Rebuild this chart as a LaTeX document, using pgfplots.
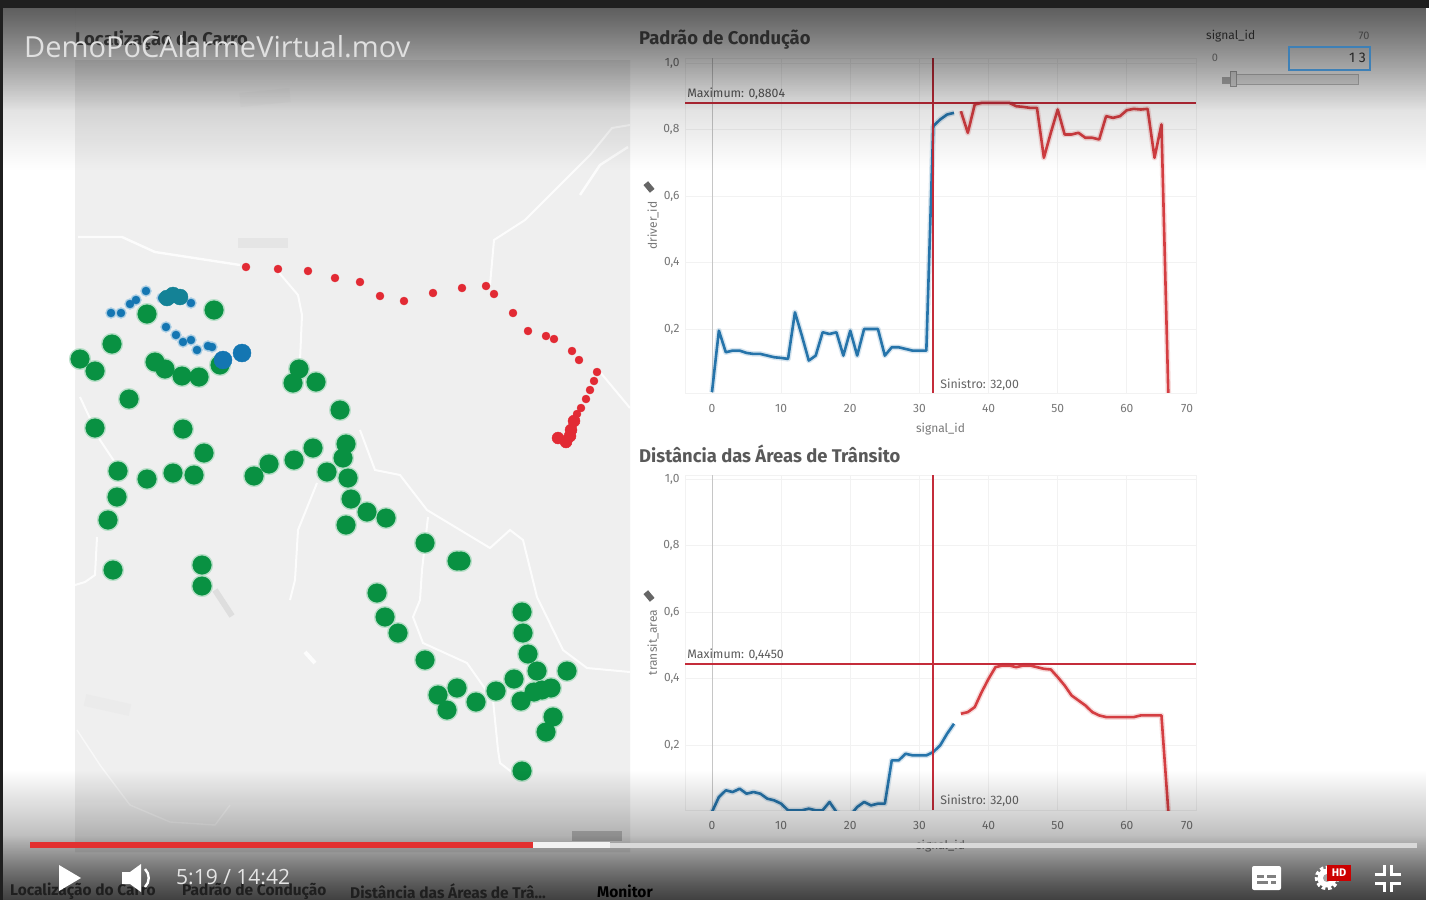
\documentclass[border=0pt]{standalone}
\usepackage{fontspec}
\setmainfont{Fira Sans}
\newfontfamily\uifont{Open Sans}
\usepackage{pgfplots}
\usepackage{pgfplotstable}
\pgfplotsset{compat=1.18}
\usetikzlibrary{fadings,calc}
\newcommand{\fs}[1]{\fontsize{#1}{#1}\selectfont}

\definecolor{framedark}{RGB}{31,31,31}
\definecolor{mapgrey}{RGB}{239,239,239}
\definecolor{lineblue}{RGB}{38,116,170}
\definecolor{linered}{RGB}{212,62,66}
\definecolor{refred}{RGB}{196,44,58}
\definecolor{dotgreen}{RGB}{9,145,66}
\definecolor{dotblue}{RGB}{20,118,178}
\definecolor{dotteal}{RGB}{20,130,150}
\definecolor{dotred}{RGB}{226,42,52}
\definecolor{tickgrey}{RGB}{120,120,120}
\definecolor{gridgrey}{RGB}{242,242,242}
\definecolor{boxblue}{RGB}{62,128,182}
\definecolor{barred}{RGB}{226,48,48}

\tikzfading[name=shadeA, top color=transparent!53, bottom color=transparent!100]
\tikzfading[name=shadeB, top color=transparent!70, bottom color=transparent!100]
\tikzfading[name=shadeC, top color=transparent!100, bottom color=transparent!50]

% map points in screen pixels
\pgfplotstableread{
x y
80 359
95 371
112 344
147 314
214 310
155 362
165 369
182 376
199 377
220 365
129 399
95 428
183 429
204 453
118 471
147 479
173 473
194 475
117 497
108 520
113 570
202 565
202 586
299 369
293 383
316 382
340 410
346 444
343 458
313 448
294 460
269 464
254 476
327 472
348 478
351 499
367 512
386 518
346 525
425 543
457 561
461 561
377 593
385 617
398 633
425 660
522 612
523 633
528 654
537 671
567 671
514 679
551 688
534 692
542 690
521 701
496 691
476 702
457 688
438 695
447 710
553 717
546 732
522 771
}\greenpts
\pgfplotstableread{
x y
111 313
121 313
130 304
136 300
146 291
162 298
191 303
166 327
176 335
183 342
191 340
197 350
208 346
212 347
}\bluepts
\pgfplotstableread{
x y
223 360
242 353
}\bluebig
\pgfplotstableread{
x y
173 295
167 298
180 297
}\tealpts
\pgfplotstableread{
x y
246 267
278 269
308 271
335 278
360 282
380 296
404 301
433 293
462 288
486 286
494 294
513 313
528 331
546 336
554 339
572 351
579 360
597 372
594 381
590 390
586 399
581 408
577 414
}\redpts
\pgfplotstableread{
x y
574 421
571 430
570 436
558 438
566 442
}\redbig

% signal_id against driver_id
\pgfplotstableread{
x y
0 0.01
1 0.195
2 0.13
3 0.135
4 0.135
5 0.128
6 0.125
7 0.125
8 0.12
9 0.115
10 0.113
11 0.11
12 0.25
13 0.18
14 0.105
15 0.12
16 0.19
17 0.185
18 0.19
19 0.12
20 0.195
21 0.12
22 0.2
23 0.2
24 0.2
25 0.12
26 0.145
27 0.145
28 0.14
29 0.135
30 0.135
31 0.135
32 0.81
33 0.83
34 0.845
35 0.85
}\driverblue
\pgfplotstableread{
x y
36 0.855
37 0.79
38 0.875
39 0.88
40 0.88
41 0.88
42 0.88
43 0.88
44 0.87
45 0.868
46 0.865
47 0.865
48 0.715
49 0.79
50 0.86
51 0.785
52 0.785
53 0.79
54 0.775
55 0.775
56 0.77
57 0.84
58 0.835
59 0.84
60 0.858
61 0.862
62 0.86
63 0.862
64 0.715
65 0.815
66 0.0
}\driverred

% signal_id against transit_area
\pgfplotstableread{
x y
0 0.0
1 0.045
2 0.065
3 0.06
4 0.07
5 0.055
6 0.06
7 0.055
8 0.04
9 0.035
10 0.025
11 0.005
12 0.005
13 0.005
14 0.01
15 0.005
16 0.005
17 0.03
18 0.0
19 -0.01
20 -0.01
21 0.015
22 0.03
23 0.02
24 0.025
25 0.025
26 0.155
27 0.155
28 0.175
29 0.17
30 0.17
31 0.17
32 0.18
33 0.2
34 0.235
35 0.265
}\transitblue
\pgfplotstableread{
x y
36 0.295
37 0.30
38 0.315
39 0.36
40 0.40
41 0.435
42 0.44
43 0.44
44 0.435
45 0.44
46 0.44
47 0.435
48 0.43
49 0.428
50 0.405
51 0.38
52 0.35
53 0.335
54 0.32
55 0.30
56 0.29
57 0.285
58 0.285
59 0.285
60 0.285
61 0.285
62 0.29
63 0.29
64 0.29
65 0.29
66 0.0
}\transitred

\pgfplotsset{
  panel/.style={
    anchor=south west, scale only axis, width=511pt, height=335pt,
    xmin=-3.9, xmax=70,
    xtick={0,10,...,70},
    xticklabels={0,10,20,30,40,50,60,\makebox[0pt]{\kern-18pt 70}},
    ytick={0.2,0.4,...,1.0},
    yticklabels={{0,2},{0,4},{0,6},{0,8},{1,0}},
    grid=major, grid style={gridgrey, line width=0.8pt},
    axis line style={gridgrey, line width=0.8pt},
    major tick length=0pt,
    tick label style={font=\fs{12}, text=tickgrey},
    xticklabel shift=8pt, yticklabel shift=2pt,
    label style={font=\fs{12}, text=tickgrey},
    xlabel=signal\_id, xlabel shift=3pt,
  },
  curve/.style={line width=2.6pt, line join=round, no marks},
  halo/.style={line width=5.5pt, opacity=0.18, line join=round, no marks},
  road/.style={white, line width=2pt, no marks, opacity=0.85},
}

\begin{document}
\begin{tikzpicture}[x=1pt,y=1pt]
\clip (0,0) rectangle (1429,900);
\fill[white] (0,0) rectangle (1429,900);

% map panel
\begin{axis}[
  at={(0,0)}, anchor=south west, scale only axis,
  width=1429pt, height=900pt,
  xmin=0, xmax=1429, ymin=0, ymax=900, y dir=reverse,
  hide axis, clip=true,
]
\addplot[fill=mapgrey, draw=none] coordinates {(75,60) (630,60) (630,852) (75,852)} \closedcycle;
% faint land patches, a little darker than the map
\addplot[black!10, line width=10pt, no marks] coordinates {(238,243) (288,243)};
\addplot[black!8, line width=14pt, no marks] coordinates {(240,100) (290,95)};
\addplot[black!13, line width=6pt, no marks] coordinates {(215,590) (232,616)};
\addplot[black!8, line width=12pt, no marks] coordinates {(85,700) (130,710)};
% roads
\addplot[road, line width=2.4pt] coordinates {(78,237) (122,237) (155,252) (240,265)};
\addplot[road] coordinates {(630,125) (612,128) (590,155) (555,190) (525,220) (494,240) (490,285)};
\addplot[road, line width=2.4pt] coordinates {(628,147) (600,165) (580,195)};
\addplot[road] coordinates {(600,372) (630,408)};
\addplot[road] coordinates {(275,268) (298,295) (302,315) (300,360)};
\addplot[road] coordinates {(80,397) (100,440) (120,470)};
\addplot[road] coordinates {(97,537) (95,575) (85,582) (75,585)};
\addplot[road] coordinates {(360,430) (375,470) (400,475) (427,510) (490,548) (510,530) (523,540) (537,597) (563,650) (587,668) (630,672)};
\addplot[road] coordinates {(428,517) (422,570) (420,600) (413,617) (423,643) (467,663) (493,700) (498,750) (500,763) (522,780)};
\addplot[road] coordinates {(317,483) (298,530) (295,580) (290,600)};
\addplot[road, line width=1.4pt, opacity=0.6] coordinates {(77,730) (100,765) (130,805) (170,822) (215,825) (230,805)};
\addplot[road, line width=4pt] coordinates {(305,652) (315,663)};
% dots, each colour with its pale rim first
\addplot[only marks, mark=*, mark size=10.8pt, dotgreen!30!white, mark options={draw=none}] table {\greenpts};
\addplot[only marks, mark=*, mark size=9.3pt, dotgreen, mark options={draw=none}] table {\greenpts};
\addplot[only marks, mark=*, mark size=5.5pt, dotblue!35!white, mark options={draw=none}] table {\bluepts};
\addplot[only marks, mark=*, mark size=4pt, dotblue, mark options={draw=none}] table {\bluepts};
\addplot[only marks, mark=*, mark size=9pt, dotblue, mark options={draw=none}] table {\bluebig};
\addplot[only marks, mark=*, mark size=8pt, dotteal, mark options={draw=none}] table {\tealpts};
\addplot[only marks, mark=*, mark size=4pt, dotred, mark options={draw=none}] table {\redpts};
\addplot[only marks, mark=*, mark size=6pt, dotred, mark options={draw=none}] table {\redbig};
% the map edge cuts the leftmost dot
\addplot[fill=white, draw=none] coordinates {(60,340) (75,340) (75,380) (60,380)} \closedcycle;
\end{axis}

% upper panel
\begin{axis}[panel, at={(685pt,507pt)}, ymin=0.0075, ymax=1.015, ylabel=driver\_id, ylabel shift=-2pt, clip=true]
\addplot[gray!45, line width=0.8pt, no marks] coordinates {(0,0.0075) (0,1.015)};
\addplot[lineblue, halo] table {\driverblue};
\addplot[linered, halo] table {\driverred};
\addplot[lineblue, curve] table {\driverblue};
\addplot[linered, curve] table {\driverred};
\addplot[refred, line width=2.2pt, no marks] coordinates {(-3.9,0.8804) (70,0.8804)};
\addplot[refred, line width=2pt, no marks] coordinates {(32,0.0075) (32,1.015)};
\node[anchor=south west, inner sep=0pt, font=\fs{12.3}, text=black!65] at (axis cs:-3.6,0.8904) {Maximum: 0,8804};
\node[anchor=west, inner sep=0pt, font=\fs{12.3}, text=black!60] at (axis cs:33,0.033) {Sinistro: 32,00};
\end{axis}

% lower panel
\begin{axis}[panel, at={(685pt,90pt)}, ymin=0.006, ymax=1.012, ylabel=transit\_area, ylabel shift=-2pt, clip=true]
\addplot[gray!45, line width=0.8pt, no marks] coordinates {(0,0.006) (0,1.012)};
\addplot[lineblue, halo] table {\transitblue};
\addplot[linered, halo] table {\transitred};
\addplot[lineblue, curve] table {\transitblue};
\addplot[linered, curve] table {\transitred};
\addplot[refred, line width=2.2pt, no marks] coordinates {(-3.9,0.445) (70,0.445)};
\addplot[refred, line width=2pt, no marks] coordinates {(32,0.006) (32,1.012)};
\node[anchor=south west, inner sep=0pt, font=\fs{12.3}, text=black!65] at (axis cs:-3.6,0.455) {Maximum: 0,4450};
\node[anchor=west, inner sep=0pt, font=\fs{12.3}, text=black!60] at (axis cs:33,0.033) {Sinistro: 32,00};
\end{axis}

% everything below is in screen pixels, y downwards
\begin{scope}[shift={(0,900)}, y=-1pt, x=1pt]
  % dashboard titles, under the player's shade
  \node[anchor=west, inner sep=0pt, font=\fs{18.4}\bfseries, text=black!65] at (639,40) {Padrão de Condução};
  \node[anchor=west, inner sep=0pt, font=\fs{18.4}\bfseries, text=black!65] at (639,454) {Distância das Áreas de Trânsito};
  \node[anchor=west, inner sep=0pt, font=\fs{18.4}\bfseries, text=black!65] at (75,40) {Localização do Carro};
  % pins beside the axis titles
  \fill[black!60, rotate around={40:(649,187)}] (646,182) rectangle (652,192);
  \fill[black!60, rotate around={40:(649,596)}] (646,591) rectangle (652,601);
  % scale bar of the map
  \fill[black!25] (572,831) rectangle (622,841);
  % slider
  \node[anchor=west, inner sep=0pt, font=\fs{12}, text=black!70] at (1206,36) {signal\_id};
  \node[anchor=center, inner sep=0pt, font=\fs{11}, text=black!45] at (1364,36) {70};
  \node[anchor=center, inner sep=0pt, font=\fs{11}, text=black!45] at (1215,58) {0};
  \node[anchor=east, inner sep=0pt, font=\fs{14}, text=black!75] at (1366,58) {1 3};
  \draw[black!25, fill=black!8, line width=1pt] (1234,75) rectangle (1358,85);
  \fill[black!30] (1222,77) rectangle (1230,84);
  \draw[black!35, fill=black!12, line width=1pt] (1230,72) rectangle (1236,87);
  % player shade
  \fill[black, path fading=shadeA] (3,8) rectangle (1429,110);
  \fill[black, path fading=shadeB] (3,8) rectangle (1429,170);
  \fill[black, path fading=shadeC] (3,770) rectangle (1429,900);
  \fill[black, path fading=shadeC] (3,835) rectangle (1429,900);
  \draw[boxblue, line width=2.4pt] (1289,47) rectangle (1370,70);
  % frame
  \fill[framedark] (0,0) rectangle (1429,8);
  \fill[framedark] (0,0) rectangle (3,900);
  % tabs
  \node[anchor=west, inner sep=0pt, font=\fs{15.5}\bfseries, text=black!88] at (10,891) {Localização do Carro};
  \node[anchor=west, inner sep=0pt, font=\fs{15.5}\bfseries, text=black!88] at (182,891) {Padrão de Condução};
  \node[anchor=west, inner sep=0pt, font=\fs{15.5}\bfseries, text=black!88] at (350,891) {Distância das Áreas de Trâ...};
  \node[anchor=west, inner sep=0pt, font=\fs{15.5}\bfseries, text=black] at (597,891) {Monitor};
  % player
  \node[anchor=west, inner sep=0pt, font=\uifont\fs{29}, text=white!88!black] at (24,47) {DemoPoCAlarmeVirtual.mov};
  \fill[white!70!gray] (30,842.5) rectangle (1417,847.5);
  \fill[white!90!gray] (533,842) rectangle (610,848);
  \fill[barred] (30,842) rectangle (533,848);
  \fill[white] (59,865) -- (81,878) -- (59,891) -- cycle;
  \fill[white] (122,872) -- (130,872) -- (141,864) -- (141,892) -- (130,884) -- (122,884) -- cycle;
  \draw[white, line width=2.4pt] (145,869) .. controls (150,874) and (150,882) .. (145,887);
  \node[anchor=west, inner sep=0pt, font=\uifont\fs{21}, text=white!80!gray] at (176,877) {5:19 / 14:42};
  \fill[white, rounded corners=2pt] (1252,866) rectangle (1281,890);
  \fill[gray] (1257,875) rectangle (1264,878);
  \fill[gray] (1267,875) rectangle (1276,878);
  \fill[gray] (1257,881) rectangle (1268,884);
  \fill[gray] (1271,881) rectangle (1276,884);
  % gear with its badge
  \draw[white, line width=3.5pt, dash pattern=on 3.5pt off 2.5pt] (1327,878) circle[radius=10.5];
  \fill[white] (1327,878) circle[radius=9.5];
  \fill[gray!70] (1327,878) circle[radius=4];
  \fill[red!80!black] (1327,865) rectangle (1351,881);
  \node[inner sep=0pt, font=\fs{11}\bfseries, text=white] at (1339,873) {HD};
  \draw[white, line width=3pt]
    (1375,874) -- (1384,874) -- (1384,865)
    (1391,865) -- (1391,874) -- (1401,874)
    (1375,883) -- (1384,883) -- (1384,892)
    (1391,892) -- (1391,883) -- (1401,883);
\end{scope}
\end{tikzpicture}
\end{document}
